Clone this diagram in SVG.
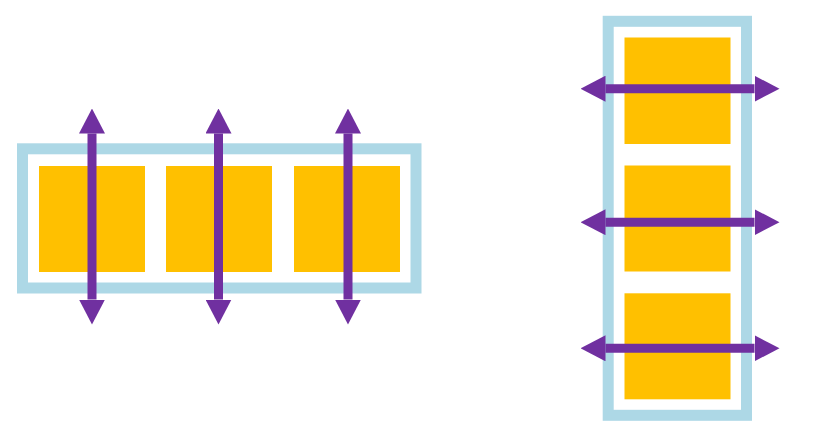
<svg xmlns="http://www.w3.org/2000/svg" width="819" height="436" viewBox="0 0 819 436">
<style>
.frame{fill:#fff;stroke:#ADD8E6;stroke-width:11}
.box{fill:#FFC000}
.arr{stroke:#7030A0;stroke-width:9;fill:none;marker-start:url(#head);marker-end:url(#head)}
</style>
<defs>
<marker id="head" viewBox="0 0 25 26" refX="0" refY="13" markerWidth="25" markerHeight="26" markerUnits="userSpaceOnUse" orient="auto-start-reverse">
<path d="M0,0 L25,13 L0,26 Z" fill="#7030A0"/>
</marker>
</defs>
<rect width="819" height="436" fill="#fff"/>
<g id="row-container">
<rect class="frame" x="22.5" y="148.8" width="393.5" height="139.2"/>
</g>
<g id="row-item-1"><rect class="box" x="39" y="166" width="106" height="106"/></g>
<g id="row-item-2"><rect class="box" x="166" y="166" width="106" height="106"/></g>
<g id="row-item-3"><rect class="box" x="294" y="166" width="106" height="106"/></g>
<g id="col-container">
<rect class="frame" x="608.2" y="21.3" width="138.3" height="394"/>
</g>
<g id="col-item-1"><rect class="box" x="624.5" y="37.5" width="106" height="106.5"/></g>
<g id="col-item-2"><rect class="box" x="624.5" y="165.5" width="106" height="106"/></g>
<g id="col-item-3"><rect class="box" x="624.5" y="293.3" width="106" height="106"/></g>
<g id="connectors">
<line class="arr" x1="92" y1="133.5" x2="92" y2="299.5"/>
<line class="arr" x1="218.5" y1="133.5" x2="218.5" y2="299.5"/>
<line class="arr" x1="348" y1="133.5" x2="348" y2="299.5"/>
<line class="arr" x1="605.5" y1="88.7" x2="754.5" y2="88.7"/>
<line class="arr" x1="605.5" y1="222.2" x2="754.5" y2="222.2"/>
<line class="arr" x1="605.5" y1="348.3" x2="754.5" y2="348.3"/>
</g>
</svg>
